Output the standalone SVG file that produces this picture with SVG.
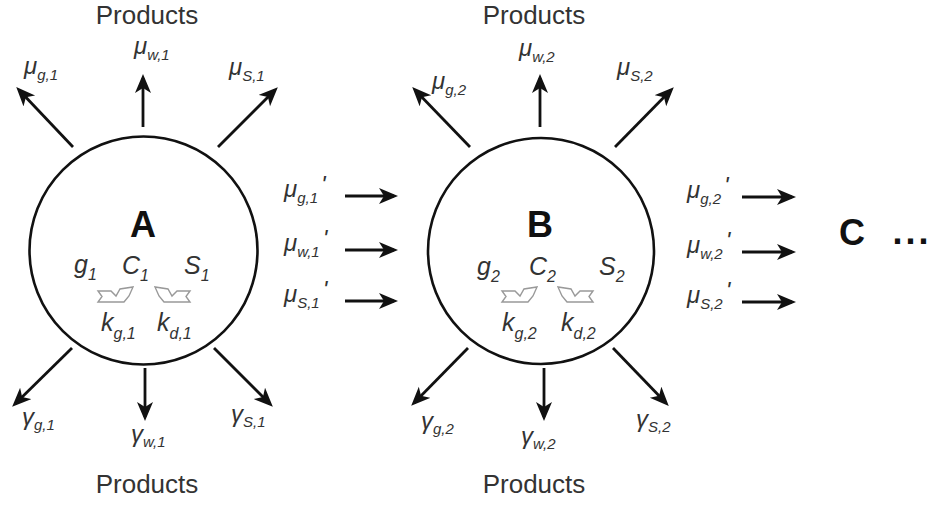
<svg xmlns="http://www.w3.org/2000/svg" xmlns:xlink="http://www.w3.org/1999/xlink" width="938" height="506" viewBox="0 0 938 506">
<style>
.ln{stroke:#111;stroke-width:2.8;fill:none;marker-end:url(#ah)}
.cir{stroke:#111;stroke-width:2.6;fill:none}
.v{font-family:"Liberation Sans",Arial,sans-serif;font-style:italic;fill:#333;font-size:24px}
.sb{font-size:15px}
.iv{font-family:"Liberation Sans",Arial,sans-serif;font-style:italic;fill:#333;font-size:25px}
.isb{font-size:16px}
.prod{font-family:"Liberation Sans",Arial,sans-serif;fill:#333;font-size:26px}
.big{font-family:"Liberation Sans",Arial,sans-serif;font-weight:bold;fill:#111;font-size:36px}
.ha{fill:none;stroke:#999;stroke-width:1.4;stroke-linejoin:miter}
</style>
<defs>
<marker id="ah" markerUnits="userSpaceOnUse" markerWidth="22" markerHeight="20" refX="15" refY="8" orient="auto">
<path d="M0,0 L19,8 L0,16 L5,8 Z" fill="#111"/>
</marker>
<path id="hol" class="ha" d="M98,291 L111,291 L116,296 L120,289 L133,287 L129,296 L124,302 L98,302 L102,296.5 Z"/>
</defs>
<rect width="938" height="506" fill="#fff"/>
<g id="connectors">
<line class="ln" x1="143" y1="127" x2="143" y2="78"/>
<line class="ln" x1="73" y1="147" x2="19" y2="90"/>
<line class="ln" x1="218" y1="147" x2="275" y2="90"/>
<line class="ln" x1="145" y1="368" x2="145" y2="417"/>
<line class="ln" x1="72" y1="348" x2="15" y2="404"/>
<line class="ln" x1="214" y1="348" x2="270" y2="404"/>
<line class="ln" x1="540" y1="127" x2="540" y2="78"/>
<line class="ln" x1="470" y1="147" x2="415" y2="90"/>
<line class="ln" x1="615" y1="147" x2="671" y2="90"/>
<line class="ln" x1="544" y1="368" x2="544" y2="417"/>
<line class="ln" x1="468" y1="348" x2="414" y2="403"/>
<line class="ln" x1="613" y1="348" x2="666" y2="403"/>
<line class="ln" x1="345" y1="196" x2="394" y2="196"/>
<line class="ln" x1="345" y1="250" x2="394" y2="250"/>
<line class="ln" x1="345" y1="301" x2="394" y2="301"/>
<line class="ln" x1="742" y1="197" x2="792" y2="197"/>
<line class="ln" x1="742" y1="252" x2="792" y2="252"/>
<line class="ln" x1="742" y1="302" x2="792" y2="302"/>
</g>
<g id="nodeA">
<circle class="cir" cx="143.5" cy="250.5" r="114"/>
<text class="big" x="143" y="237" text-anchor="middle">A</text>
<text class="iv" x="74" y="273">g<tspan class="isb" dy="7">1</tspan></text>
<text class="iv" x="122" y="274">C<tspan class="isb" dy="7">1</tspan></text>
<text class="iv" x="184" y="274">S<tspan class="isb" dy="7">1</tspan></text>
<use xlink:href="#hol"/>
<use xlink:href="#hol" transform="translate(288,0) scale(-1,1)"/>
<text class="iv" x="101" y="331">k<tspan class="isb" dy="8">g,1</tspan></text>
<text class="iv" x="157" y="331">k<tspan class="isb" dy="8">d,1</tspan></text>
</g>
<g id="nodeB">
<circle class="cir" cx="541" cy="251" r="113"/>
<text class="big" x="540" y="237" text-anchor="middle">B</text>
<text class="iv" x="477" y="275">g<tspan class="isb" dy="7">2</tspan></text>
<text class="iv" x="529" y="275">C<tspan class="isb" dy="7">2</tspan></text>
<text class="iv" x="599" y="275">S<tspan class="isb" dy="7">2</tspan></text>
<use xlink:href="#hol" transform="translate(404,0)"/>
<use xlink:href="#hol" transform="translate(691,0) scale(-1,1)"/>
<text class="iv" x="502" y="331">k<tspan class="isb" dy="8">g,2</tspan></text>
<text class="iv" x="561" y="331">k<tspan class="isb" dy="8">d,2</tspan></text>
</g>
<g id="nodeC">
<text class="big" x="852" y="245" text-anchor="middle">C</text>
<text class="big" x="912" y="244" text-anchor="middle" letter-spacing="3">...</text>
</g>
<g id="labels">
<text class="prod" x="147" y="24" text-anchor="middle">Products</text>
<text class="prod" x="147" y="493" text-anchor="middle">Products</text>
<text class="prod" x="534" y="24" text-anchor="middle">Products</text>
<text class="prod" x="534" y="493" text-anchor="middle">Products</text>
<text class="v" x="24" y="74">μ<tspan class="sb" dy="6">g,1</tspan></text>
<text class="v" x="134" y="54">μ<tspan class="sb" dy="6">w,1</tspan></text>
<text class="v" x="229" y="75">μ<tspan class="sb" dy="6">S,1</tspan></text>
<text class="v" x="432" y="89">μ<tspan class="sb" dy="6">g,2</tspan></text>
<text class="v" x="519" y="56">μ<tspan class="sb" dy="6">w,2</tspan></text>
<text class="v" x="617" y="75">μ<tspan class="sb" dy="6">S,2</tspan></text>
<text class="v" x="22" y="425">γ<tspan class="sb" dy="5">g,1</tspan></text>
<text class="v" x="131" y="442">γ<tspan class="sb" dy="5">w,1</tspan></text>
<text class="v" x="231" y="422">γ<tspan class="sb" dy="5">S,1</tspan></text>
<text class="v" x="421" y="429">γ<tspan class="sb" dy="5">g,2</tspan></text>
<text class="v" x="521" y="444">γ<tspan class="sb" dy="5">w,2</tspan></text>
<text class="v" x="636" y="427">γ<tspan class="sb" dy="5">S,2</tspan></text>
<text class="v" x="284" y="197">μ<tspan class="sb" dy="6">g,1</tspan><tspan dy="-10" dx="3">'</tspan></text>
<text class="v" x="284" y="251">μ<tspan class="sb" dy="6">w,1</tspan><tspan dy="-10" dx="3">'</tspan></text>
<text class="v" x="284" y="302">μ<tspan class="sb" dy="6">S,1</tspan><tspan dy="-10" dx="3">'</tspan></text>
<text class="v" x="687" y="198">μ<tspan class="sb" dy="6">g,2</tspan><tspan dy="-10" dx="3">'</tspan></text>
<text class="v" x="687" y="253">μ<tspan class="sb" dy="6">w,2</tspan><tspan dy="-10" dx="3">'</tspan></text>
<text class="v" x="687" y="303">μ<tspan class="sb" dy="6">S,2</tspan><tspan dy="-10" dx="3">'</tspan></text>
</g>
</svg>
